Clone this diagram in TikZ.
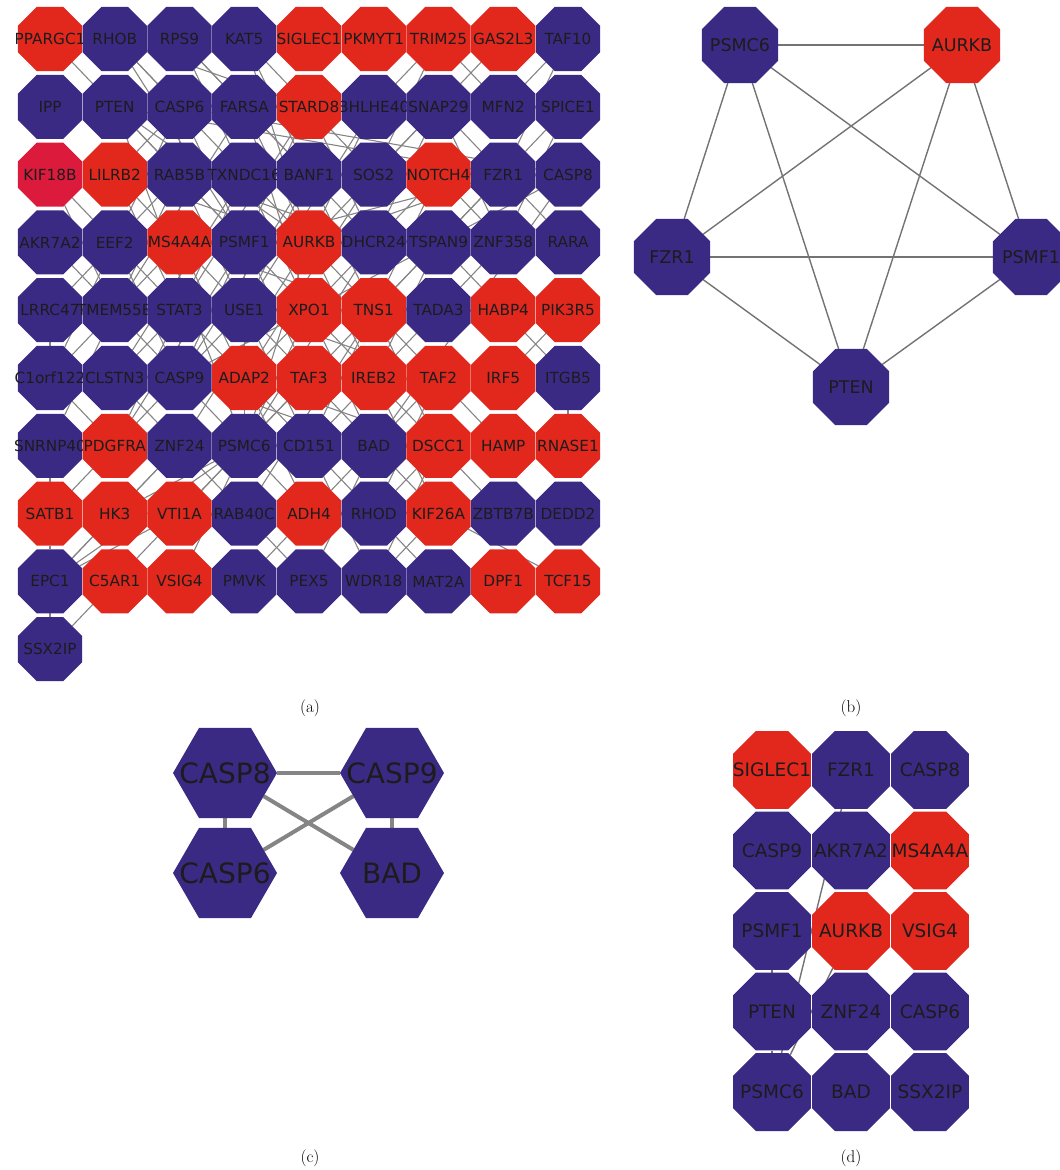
\documentclass[tikz,border=0pt]{standalone}
\usepackage{fontspec}
\newfontfamily\lblfont{DejaVu Sans}
\usetikzlibrary{shapes.geometric}
\pgfdeclarelayer{bg}
\pgfsetlayers{bg,main}
\definecolor{nb}{HTML}{3B2A84}
\definecolor{nr}{HTML}{E2271D}
\definecolor{nc}{HTML}{DC1A3C}
\definecolor{eg}{HTML}{858585}
\definecolor{egb}{HTML}{737373}
\definecolor{tx}{HTML}{1C1C1C}
\begin{document}
\begin{tikzpicture}[x=1pt,y=-1pt,
  oct/.style={regular polygon, regular polygon sides=8, inner sep=0pt, outer sep=0pt, draw=none},
  octa/.style={oct, minimum size=69.3pt},
  octb/.style={oct, minimum size=82.3pt},
  octd/.style={oct, minimum size=84.4pt},
  hexa/.style={regular polygon, regular polygon sides=6, minimum size=104pt, inner sep=0pt, outer sep=0pt, fill=nb, draw=none},
  la/.style={font=\lblfont\fontsize{15.3pt}{18pt}\selectfont, text=tx, inner sep=0pt},
  lb/.style={font=\lblfont\fontsize{17.5pt}{20pt}\selectfont, text=tx, inner sep=0pt},
  ld/.style={font=\lblfont\fontsize{18.5pt}{21pt}\selectfont, text=tx, inner sep=0pt},
  lc/.style={font=\lblfont\fontsize{28pt}{32pt}\selectfont, text=tx, inner sep=0pt},
  ea/.style={draw=eg, line width=1.1pt},
  eb/.style={draw=egb, line width=1.4pt},
  ec/.style={draw=eg, line width=4pt},
  ed/.style={draw=egb, line width=1.4pt},
  captxt/.style={font=\fontsize{17pt}{20pt}\selectfont, inner sep=0pt}
]
\useasboundingbox (0,0) rectangle (1060,1170);

% ---------------- panel (a) ----------------
\foreach \r/\c/\g/\k in {
0/0/PPARGC1/nr,0/1/RHOB/nb,0/2/RPS9/nb,0/3/KAT5/nb,0/4/SIGLEC1/nr,0/5/PKMYT1/nr,0/6/TRIM25/nr,0/7/GAS2L3/nr,0/8/TAF10/nb,
1/0/IPP/nb,1/1/PTEN/nb,1/2/CASP6/nb,1/3/FARSA/nb,1/5/BHLHE40/nb,1/4/STARD8/nr,1/6/SNAP29/nb,1/7/MFN2/nb,1/8/SPICE1/nb,
2/0/KIF18B/nc,2/1/LILRB2/nr,2/2/RAB5B/nb,2/3/TXNDC16/nb,2/4/BANF1/nb,2/5/SOS2/nb,2/6/NOTCH4/nr,2/7/FZR1/nb,2/8/CASP8/nb,
3/0/AKR7A2/nb,3/1/EEF2/nb,3/2/MS4A4A/nr,3/3/PSMF1/nb,3/4/AURKB/nr,3/5/DHCR24/nb,3/6/TSPAN9/nb,3/7/ZNF358/nb,3/8/RARA/nb,
4/0/LRRC47/nb,4/1/TMEM55B/nb,4/2/STAT3/nb,4/3/USE1/nb,4/4/XPO1/nr,4/5/TNS1/nr,4/6/TADA3/nb,4/7/HABP4/nr,4/8/PIK3R5/nr,
5/0/C1orf122/nb,5/1/CLSTN3/nb,5/2/CASP9/nb,5/3/ADAP2/nr,5/4/TAF3/nr,5/5/IREB2/nr,5/6/TAF2/nr,5/7/IRF5/nr,5/8/ITGB5/nb,
6/0/SNRNP40/nb,6/1/PDGFRA/nr,6/2/ZNF24/nb,6/3/PSMC6/nb,6/4/CD151/nb,6/5/BAD/nb,6/6/DSCC1/nr,6/7/HAMP/nr,6/8/RNASE1/nr,
7/0/SATB1/nr,7/1/HK3/nr,7/2/VTI1A/nr,7/3/RAB40C/nb,7/4/ADH4/nr,7/5/RHOD/nb,7/6/KIF26A/nr,7/7/ZBTB7B/nb,7/8/DEDD2/nb,
8/0/EPC1/nb,8/1/C5AR1/nr,8/2/VSIG4/nr,8/3/PMVK/nb,8/4/PEX5/nb,8/5/WDR18/nb,8/6/MAT2A/nb,8/7/DPF1/nr,8/8/TCF15/nr,
9/0/SSX2IP/nb}
  \node[octa, fill=\k, label={[la]center:\g}] (a\r\c) at ({50+64.75*\c},{39+67.8*\r}) {};

\begin{pgfonlayer}{bg}
\foreach \u/\v in {
00/11,01/12,01/23,01/33,01/14,02/13,02/23,02/24,03/14,03/24,03/34,06/15,06/25,06/17,07/16,08/17,08/27,
11/22,12/21,11/33,11/34,11/63,11/27,12/31,13/41,12/33,13/24,14/42,13/34,14/33,13/44,14/25,15/43,14/35,15/34,16/25,16/35,16/34,16/27,16/37,18/27,18/37,
20/31,20/41,21/32,22/31,21/42,22/41,22/33,23/51,22/43,23/42,23/34,24/52,23/44,24/43,24/35,25/53,24/45,26/35,26/45,26/37,27/36,27/38,22/35,21/34,
63/34,63/27,63/33,34/27,34/33,27/33,28/52,28/12,28/65,52/12,52/65,
30/41,31/40,31/42,32/41,31/52,32/43,33/61,32/53,33/52,33/44,34/62,33/54,34/45,35/44,34/55,35/63,36/45,36/55,36/47,37/46,32/45,
41/50,41/60,31/50,41/52,42/51,42/61,42/53,43/52,43/54,44/53,43/64,44/63,44/55,45/73,44/65,45/64,45/56,46/55,45/66,47/58,48/57,43/56,
50/61,51/62,52/61,52/63,53/64,54/63,53/74,54/65,55/64,55/66,56/65,55/76,56/75,56/67,58/68,53/66,
61/70,62/71,63/72,63/71,63/81,63/82,63/80,62/80,62/73,63/74,64/75,65/74,64/85,65/84,65/76,66/75,66/85,66/77,
71/80,72/80,73/84,74/83,75/86,76/85,76/88,70/80,60/70,40/50,
80/90,81/90}
  \draw[ea] (a\u) -- (a\v);
\end{pgfonlayer}

% ---------------- panel (b) ----------------
\node[octb, fill=nb, label={[lb]center:PSMC6}] (bPSMC6) at (740,45) {};
\node[octb, fill=nr, label={[lb]center:AURKB}] (bAURKB) at (962,45) {};
\node[octb, fill=nb, label={[lb]center:FZR1}] (bFZR1) at (672,257) {};
\node[octb, fill=nb, label={[lb]center:PSMF1}] (bPSMF1) at (1031,257) {};
\node[octb, fill=nb, label={[lb]center:PTEN}] (bPTEN) at (851,387) {};
\begin{pgfonlayer}{bg}
\foreach \u/\v in {PSMC6/AURKB,PSMC6/FZR1,PSMC6/PSMF1,PSMC6/PTEN,AURKB/FZR1,AURKB/PSMF1,AURKB/PTEN,FZR1/PSMF1,FZR1/PTEN,PSMF1/PTEN}
  \draw[eb] (b\u) -- (b\v);
\end{pgfonlayer}

% ---------------- panel (c) ----------------
\node[hexa, label={[lc]center:CASP8}] (cCASP8) at (225,773) {};
\node[hexa, label={[lc]center:CASP9}] (cCASP9) at (392,773) {};
\node[hexa, label={[lc]center:CASP6}] (cCASP6) at (225,873) {};
\node[hexa, label={[lc]center:BAD}] (cBAD) at (392,873) {};
\begin{pgfonlayer}{bg}
\foreach \u/\v in {CASP8/CASP9,CASP8/CASP6,CASP9/BAD,CASP8/BAD,CASP9/CASP6}
  \draw[ec] (c\u) -- (c\v);
\end{pgfonlayer}

% ---------------- panel (d) ----------------
\foreach \r/\c/\g/\k in {
0/0/SIGLEC1/nr,0/1/FZR1/nb,0/2/CASP8/nb,
1/0/CASP9/nb,1/1/AKR7A2/nb,1/2/MS4A4A/nr,
2/0/PSMF1/nb,2/1/AURKB/nr,2/2/VSIG4/nr,
3/0/PTEN/nb,3/1/ZNF24/nb,3/2/CASP6/nb,
4/0/PSMC6/nb,4/1/BAD/nb,4/2/SSX2IP/nb}
  \node[octd, fill=\k, label={[ld]center:\g}] (d\g) at ({772+79*\c},{770+80.5*\r}) {};
\begin{pgfonlayer}{bg}
\foreach \u/\v in {FZR1/PSMC6,AURKB/PSMC6,PSMF1/PTEN,PTEN/PSMC6}
  \draw[ed] (d\u) -- (d\v);
\end{pgfonlayer}

% ---------------- captions ----------------
\node[captxt] (capa) at (310,708) {(a)};
\node[captxt] (capb) at (851,708) {(b)};
\node[captxt] (capc) at (310,1158) {(c)};
\node[captxt] (capd) at (851,1158) {(d)};
\end{tikzpicture}
\end{document}
